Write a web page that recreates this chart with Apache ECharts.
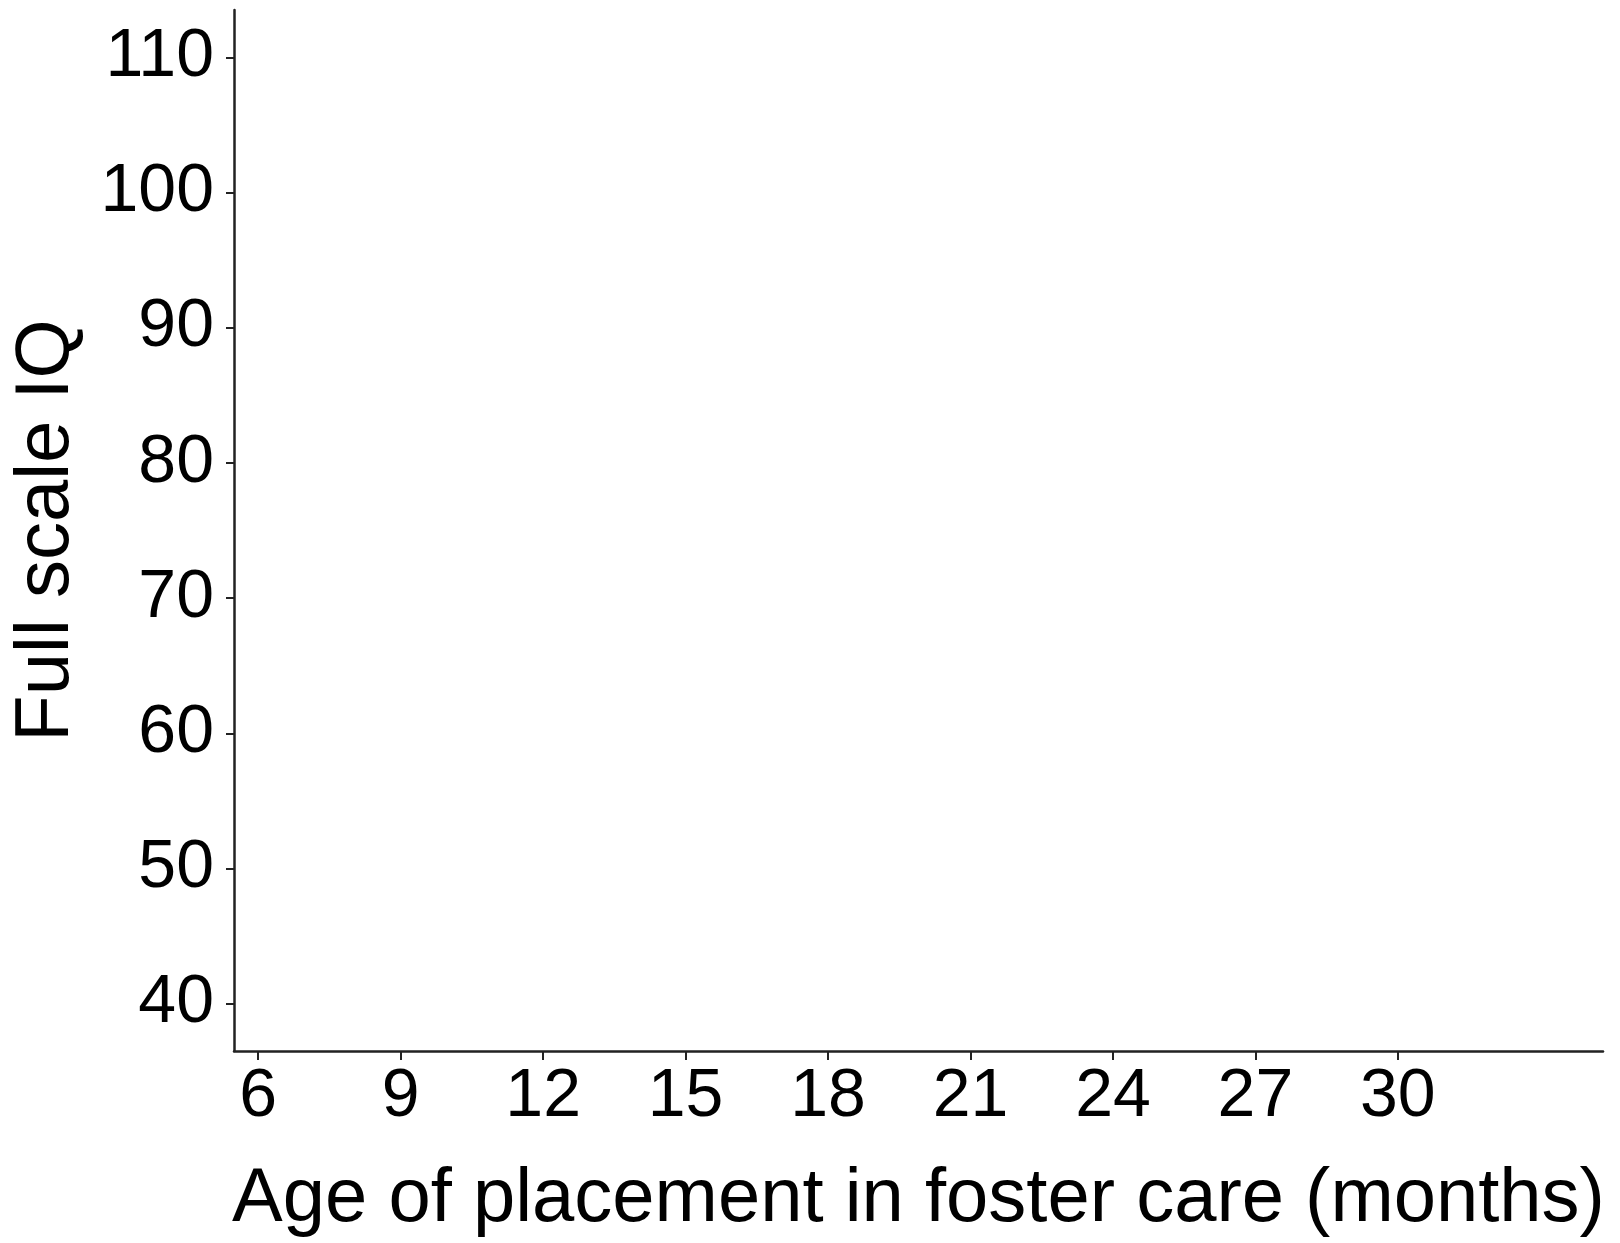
<!DOCTYPE html>
<html>
<head>
<meta charset="utf-8">
<title>Full scale IQ by age of placement</title>
<script src="https://cdn.jsdelivr.net/npm/echarts@6/dist/echarts.min.js"></script>
<style>
  html, body { margin: 0; padding: 0; background: #ffffff; }
  #chart { width: 1620px; height: 1243px; }
</style>
</head>
<body>
<div id="chart"></div>
<script>
// Axis ticks and ranges
const xTicks = [6, 9, 12, 15, 18, 21, 24, 27, 30];
const yTicks = [40, 50, 60, 70, 80, 90, 100, 110];
const xRange = [5.49, 34.32];
const yRange = [36.5, 113.5];

// Observations (age in months, full scale IQ) — none plotted
const points = [];

const FONT = '"Liberation Sans", Arial, sans-serif';
const INK = '#000000';
const LINE = '#222222';

const chart = echarts.init(document.getElementById('chart'));
chart.setOption({
  backgroundColor: '#ffffff',
  animation: false,
  grid: { left: 234, right: 17, top: 10, bottom: 189, containLabel: false },
  xAxis: {
    type: 'value',
    min: xRange[0],
    max: xRange[1],
    name: 'Age of placement in foster care (months)',
    nameLocation: 'middle',
    nameGap: 111,
    nameTextStyle: { fontFamily: FONT, fontSize: 76, color: INK },
    axisLine: { show: true, onZero: false, lineStyle: { color: LINE, width: 2.5 } },
    axisTick: { show: true, length: 9, customValues: xTicks, lineStyle: { color: LINE, width: 2 } },
    axisLabel: { customValues: xTicks, margin: 12, fontFamily: FONT, fontSize: 68, color: INK },
    splitLine: { show: false }
  },
  yAxis: {
    type: 'value',
    min: yRange[0],
    max: yRange[1],
    name: 'Full scale IQ',
    nameLocation: 'middle',
    nameGap: 149,
    nameRotate: 90,
    nameTextStyle: { fontFamily: FONT, fontSize: 76, color: INK },
    axisLine: { show: true, onZero: false, lineStyle: { color: LINE, width: 2.5 } },
    axisTick: { show: true, length: 8, customValues: yTicks, lineStyle: { color: LINE, width: 2 } },
    axisLabel: { customValues: yTicks, margin: 20, fontFamily: FONT, fontSize: 68, color: INK },
    splitLine: { show: false }
  },
  series: [{
    type: 'scatter',
    data: points,
    symbolSize: 10,
    itemStyle: { color: INK }
  }]
});
</script>
</body>
</html>
